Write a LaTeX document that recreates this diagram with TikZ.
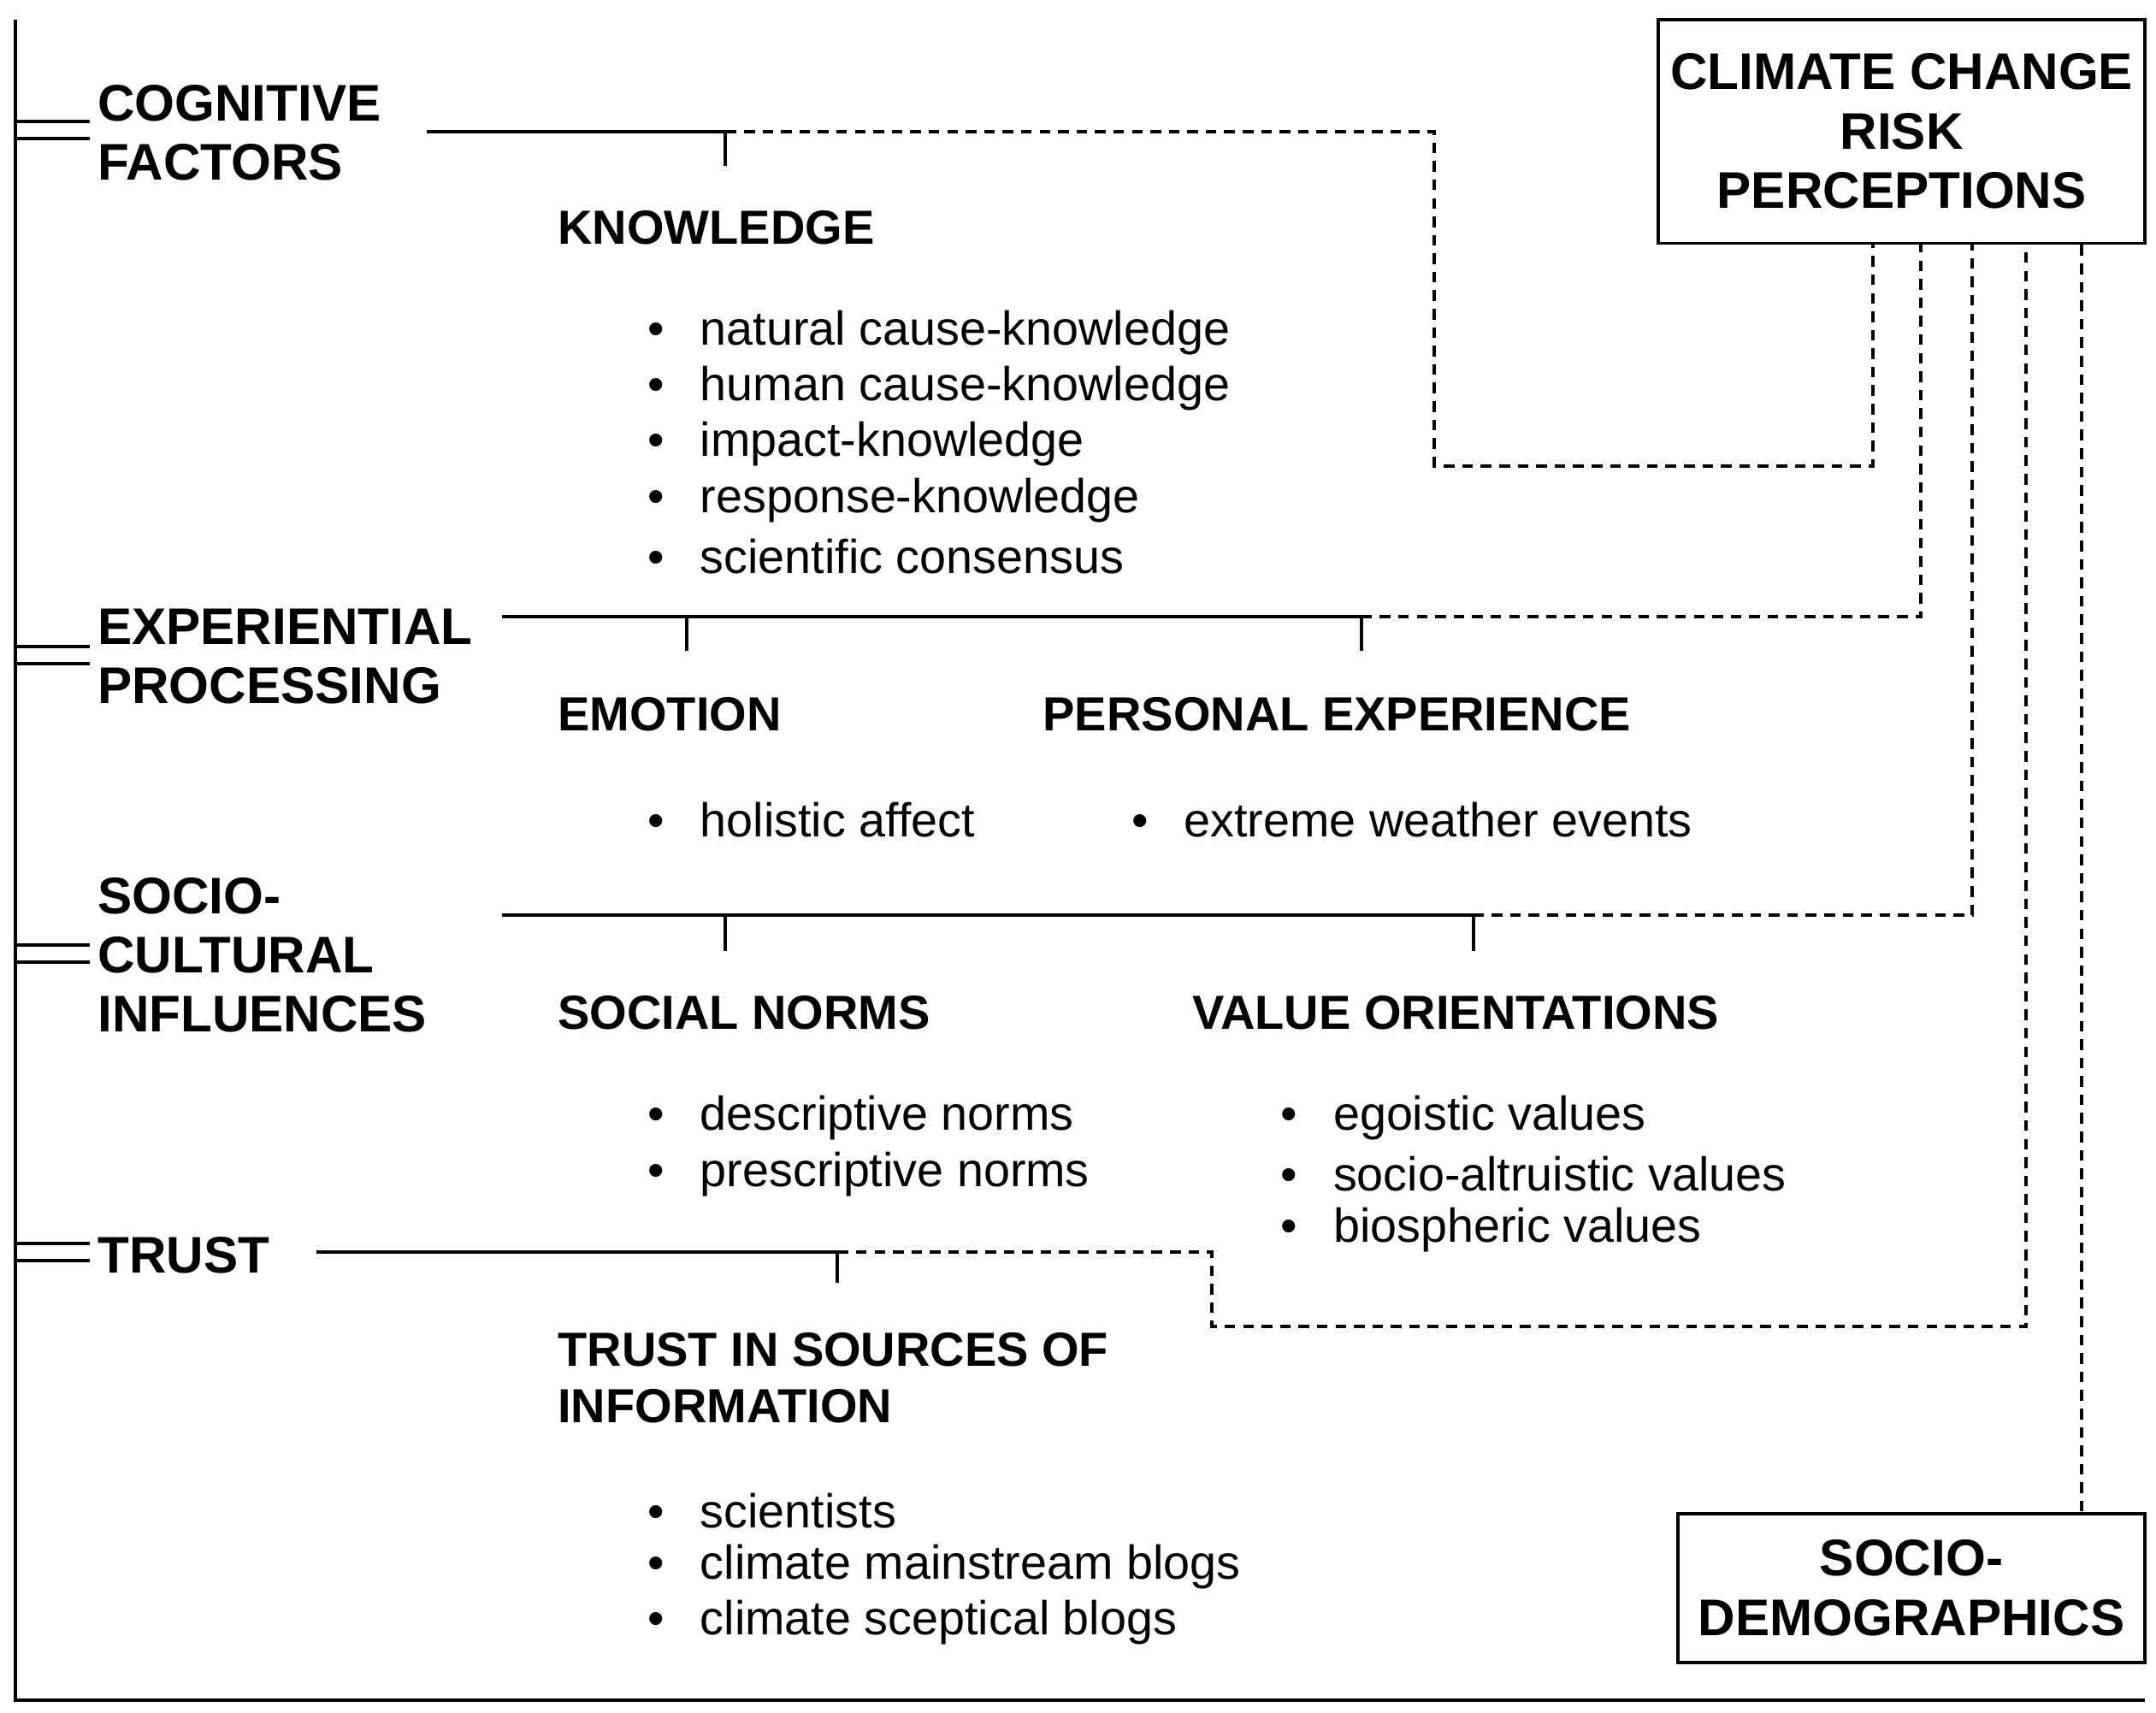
\documentclass[tikz,border=0pt]{standalone}
\usepackage{fontspec}
\setmainfont{Liberation Sans}
\usetikzlibrary{positioning}

\tikzset{
  factor/.style   = {anchor=west, inner sep=0pt, align=left,
                     font=\fontsize{10.6}{12.2}\selectfont\bfseries},
  heading/.style  = {anchor=west, inner sep=0pt, align=left,
                     font=\fontsize{9.85}{11.6}\selectfont\bfseries},
  entry/.style    = {anchor=west, inner sep=0pt,
                     font=\fontsize{9.8}{11}\selectfont},
  outcome/.style  = {draw, line width=0.7pt, inner sep=0pt, align=center,
                     font=\fontsize{10.6}{12.2}\selectfont\bfseries},
  solidlink/.style = {line width=0.7pt},
  dashlink/.style  = {line width=0.7pt, dash pattern=on 2.2pt off 1.6pt}
}

\begin{document}
\begin{tikzpicture}[x=0.01cm, y=-0.01cm]

  % Frame of the page
  \useasboundingbox (0,0) rectangle (1560,1239);

  % Outcome boxes
  \node[outcome, minimum width=3.52cm, minimum height=1.62cm]
    (risk) at (1376,95) {CLIMATE CHANGE\\RISK\\PERCEPTIONS};
  \node[outcome, minimum width=3.38cm, minimum height=1.08cm]
    (demo) at (1383,1149) {SOCIO-\\DEMOGRAPHICS};

  % Left axis and bottom rule
  \coordinate (top)    at (11,14);
  \coordinate (corner) at (11,1230);
  \coordinate (end)    at (1552,1230);
  \draw[solidlink] (top) -- (corner) -- (end);

  % Factor labels with their double ticks on the axis
  \node[factor] (cog) at (70,96)  {COGNITIVE\\FACTORS};
  \node[factor] (exp) at (70,475) {EXPERIENTIAL\\PROCESSING};
  \node[factor] (soc) at (70,691) {SOCIO-\\CULTURAL\\INFLUENCES};
  \node[factor] (tru) at (70,908) {TRUST};

  \foreach \y in {94, 474, 690, 906} {
    \draw[solidlink] (11,\y-6) -- (65,\y-6);
    \draw[solidlink] (11,\y+6) -- (65,\y+6);
  }

  % Headings
  \node[heading] (know) at (403,165) {KNOWLEDGE};
  \node[heading] (emo)  at (403,517) {EMOTION};
  \node[heading] (pers) at (754,517) {PERSONAL EXPERIENCE};
  \node[heading] (norm) at (403,733) {SOCIAL NORMS};
  \node[heading] (val)  at (862,733) {VALUE ORIENTATIONS};
  \node[heading] (src)  at (403,997) {TRUST IN SOURCES OF\\INFORMATION};

  % Bullet lists
  \foreach \txt [count=\i] in {natural cause-knowledge, human cause-knowledge,
      impact-knowledge, response-knowledge, scientific consensus}
    \node[entry] (know\i) at (468,200+40.5*\i) {\textbullet\hspace{2.6mm}\txt};

  \node[entry] (emo1)  at (468,593) {\textbullet\hspace{2.6mm}holistic affect};
  \node[entry] (pers1) at (818,593) {\textbullet\hspace{2.6mm}extreme weather events};

  \foreach \txt [count=\i] in {descriptive norms, prescriptive norms}
    \node[entry] (norm\i) at (468,768.5+40.5*\i) {\textbullet\hspace{2.6mm}\txt};

  \foreach \txt [count=\i] in {egoistic values, socio-altruistic values,
      biospheric values}
    \node[entry] (val\i) at (926,768.5+40.5*\i) {\textbullet\hspace{2.6mm}\txt};

  \foreach \txt [count=\i] in {scientists, climate mainstream blogs,
      climate sceptical blogs}
    \node[entry] (src\i) at (468,1052.5+40.5*\i) {\textbullet\hspace{2.6mm}\txt};

  % Branch points
  \coordinate (cogA) at (309,95);   \coordinate (cogB) at (525,95);
  \coordinate (expA) at (363,446);  \coordinate (expB) at (497,446);
  \coordinate (expC) at (985,446);
  \coordinate (socA) at (363,662);  \coordinate (socB) at (525,662);
  \coordinate (socC) at (1066,662);
  \coordinate (truA) at (229,906);  \coordinate (truB) at (606,906);

  % Solid branches
  \draw[solidlink] (cogA) -- (cogB) -- ++(0,25);
  \draw[solidlink] (expA) -- (expC) -- ++(0,25);
  \draw[solidlink] (expB) -- ++(0,25);
  \draw[solidlink] (socA) -- (socC) -- ++(0,26);
  \draw[solidlink] (socB) -- ++(0,26);
  \draw[solidlink] (truA) -- (truB) -- ++(0,22);

  % Dashed links to the risk perceptions box
  \draw[dashlink] (cogB) -| (1038,337) -| (risk.south -| 1355,0);
  \draw[dashlink] (expC) -| (risk.south -| 1390,0);
  \draw[dashlink] (socC) -| (risk.south -| 1427,0);
  \draw[dashlink] (truB) -| (877,960) -| (risk.south -| 1466,0);
  \draw[dashlink] (risk.south -| 1506,0) -- (demo.north -| 1506,0);

\end{tikzpicture}
\end{document}
